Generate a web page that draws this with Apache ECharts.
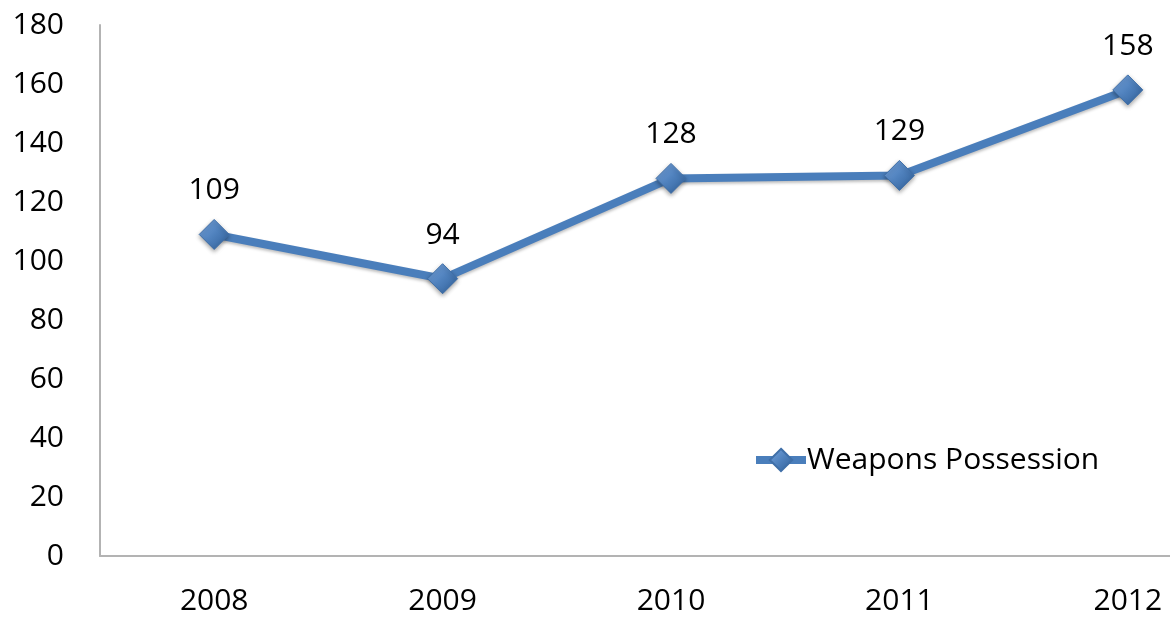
<!DOCTYPE html>
<html><head><meta charset="utf-8">
<script src="https://cdn.jsdelivr.net/npm/echarts@6/dist/echarts.min.js"></script>
<style>html,body{margin:0;padding:0;background:#fff}#c{width:1170px;height:621px}</style>
</head><body><div id="c"></div>
<script>
const categories = ['2008','2009','2010','2011','2012'];
const seriesName = 'Weapons Possession';
const values = [109, 94, 128, 129, 158];
const yTicks = {min: 0, max: 180, interval: 20};

const font = 'Open Sans';
const chart = echarts.init(document.getElementById('c'));
const markerColor = new echarts.graphic.LinearGradient(0,0,1,1,[
  {offset:0, color:'#7aa7e0'},{offset:0.5,color:'#4f81bd'},{offset:1,color:'#2e5d96'}]);
chart.setOption({
  animation:false,
  backgroundColor:'#fff',
  grid:{left:100, right:-72, top:25, bottom:65, containLabel:false, outerBoundsMode:'none'},
  legend:{
    left:747, top:440, itemWidth:50, itemHeight:28, itemGap:10,
    lineStyle:{width:8},
    textStyle:{fontFamily:font, fontSize:30, color:'#000', padding:[0,0,0,-4]},
    data:[seriesName]
  },
  xAxis:{
    type:'category', data:categories, boundaryGap:true,
    axisLine:{show:true, lineStyle:{color:'#b3b3b3', width:2}},
    axisTick:{show:false},
    axisLabel:{fontFamily:font, fontSize:30, color:'#000', margin:30}
  },
  yAxis:{
    type:'value', min:yTicks.min, max:yTicks.max, interval:yTicks.interval,
    axisLine:{show:true, lineStyle:{color:'#b3b3b3', width:2}},
    axisTick:{show:false},
    splitLine:{show:false},
    axisLabel:{fontFamily:font, fontSize:30, color:'#000', margin:36}
  },
  series:[{
    name:seriesName, type:'line', data:values,
    symbol:'diamond', symbolSize:30,
    lineStyle:{color:'#4a7ebb', width:8, shadowColor:'rgba(0,0,0,0.25)', shadowBlur:3, shadowOffsetY:2},
    itemStyle:{color:markerColor, borderColor:'#3f6fa8', borderWidth:1, shadowColor:'rgba(0,0,0,0.35)', shadowBlur:4, shadowOffsetY:2},
    label:{show:true, position:'top', distance:13, fontFamily:font, fontSize:30, color:'#000'}
  }]
});
</script></body></html>
